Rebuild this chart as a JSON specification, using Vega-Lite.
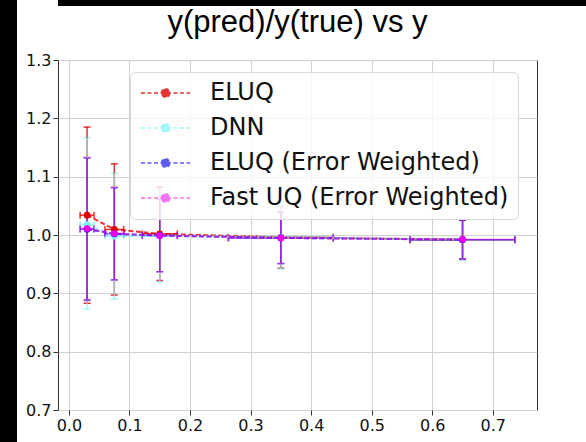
{
  "$schema": "https://vega.github.io/schema/vega-lite/v6.json",
  "background": "white",
  "padding": 0,
  "spacing": 0,
  "config": {"view": {"stroke": null}},
  "hconcat": [
    {
      "width": 17, "height": 442,
      "data": {"values": [{}]},
      "mark": {"type": "point", "opacity": 0},
      "view": {"fill": "black", "stroke": null}
    },
    {
      "spacing": 0,
      "align": "none",
      "vconcat": [
        {
          "width": 569, "height": 6,
          "data": {"values": [{}]},
          "mark": {"type": "point", "opacity": 0},
          "view": {"fill": "black", "stroke": null}
        },
        {
          "width": 479,
          "height": 350,
          "title": {"text": "y(pred)/y(true) vs y", "font": "Liberation Sans", "fontSize": 31, "fontWeight": "normal", "color": "#000", "anchor": "middle", "offset": 13},
          "view": {"stroke": "#333", "strokeWidth": 1, "fill": "white"},
          "data": {"values": [
            {"s": "ELUQ", "x": 0.03, "y": 1.034, "ylo": 0.883, "yhi": 1.185, "xlo": 0.0185, "xhi": 0.0415},
            {"s": "ELUQ", "x": 0.075, "y": 1.0095, "ylo": 0.897, "yhi": 1.122, "xlo": 0.0595, "xhi": 0.0905},
            {"s": "ELUQ", "x": 0.15, "y": 1.002, "ylo": 0.922, "yhi": 1.082, "xlo": 0.121, "xhi": 0.179},
            {"s": "ELUQ", "x": 0.35, "y": 0.996, "ylo": 0.943, "yhi": 1.049, "xlo": 0.2634, "xhi": 0.4366},
            {"s": "ELUQ", "x": 0.65, "y": 0.992, "ylo": 0.958, "yhi": 1.026, "xlo": 0.5634, "xhi": 0.7366},
            {"s": "DNN", "x": 0.03, "y": 1.018, "ylo": 0.873, "yhi": 1.167, "xlo": 0.0185, "xhi": 0.0415},
            {"s": "DNN", "x": 0.075, "y": 0.998, "ylo": 0.89, "yhi": 1.106, "xlo": 0.0595, "xhi": 0.0905},
            {"s": "DNN", "x": 0.15, "y": 0.999, "ylo": 0.92, "yhi": 1.078, "xlo": 0.121, "xhi": 0.179},
            {"s": "DNN", "x": 0.35, "y": 0.996, "ylo": 0.942, "yhi": 1.05, "xlo": 0.2634, "xhi": 0.4366},
            {"s": "DNN", "x": 0.65, "y": 0.992, "ylo": 0.957, "yhi": 1.027, "xlo": 0.5634, "xhi": 0.7366},
            {"s": "ELUQ (Error Weighted)", "x": 0.03, "y": 1.01, "ylo": 0.888, "yhi": 1.132, "xlo": 0.0185, "xhi": 0.0415},
            {"s": "ELUQ (Error Weighted)", "x": 0.075, "y": 1.002, "ylo": 0.923, "yhi": 1.081, "xlo": 0.0595, "xhi": 0.0905},
            {"s": "ELUQ (Error Weighted)", "x": 0.15, "y": 0.999, "ylo": 0.937, "yhi": 1.061, "xlo": 0.121, "xhi": 0.179},
            {"s": "ELUQ (Error Weighted)", "x": 0.35, "y": 0.995, "ylo": 0.951, "yhi": 1.039, "xlo": 0.2634, "xhi": 0.4366},
            {"s": "ELUQ (Error Weighted)", "x": 0.65, "y": 0.992, "ylo": 0.959, "yhi": 1.025, "xlo": 0.5634, "xhi": 0.7366},
            {"s": "Fast UQ (Error Weighted)", "x": 0.03, "y": 1.011, "ylo": 0.889, "yhi": 1.133, "xlo": 0.0185, "xhi": 0.0415},
            {"s": "Fast UQ (Error Weighted)", "x": 0.075, "y": 1.0025, "ylo": 0.923, "yhi": 1.082, "xlo": 0.0595, "xhi": 0.0905},
            {"s": "Fast UQ (Error Weighted)", "x": 0.15, "y": 0.999, "ylo": 0.937, "yhi": 1.061, "xlo": 0.121, "xhi": 0.179},
            {"s": "Fast UQ (Error Weighted)", "x": 0.35, "y": 0.995, "ylo": 0.951, "yhi": 1.039, "xlo": 0.2634, "xhi": 0.4366},
            {"s": "Fast UQ (Error Weighted)", "x": 0.65, "y": 0.9925, "ylo": 0.959, "yhi": 1.026, "xlo": 0.5634, "xhi": 0.7366}
          ]},
          "encoding": {
            "x": {"field": "x", "type": "quantitative",
                  "scale": {"domain": [-0.018, 0.773], "nice": false, "zero": false},
                  "axis": {"title": null, "values": [0, 0.1, 0.2, 0.3, 0.4, 0.5, 0.6, 0.7], "format": ".1f", "domain": false,
                           "tickSize": 5, "tickColor": "#333", "labelPadding": 2, "labelFont": "DejaVu Sans", "labelFontSize": 16, "labelColor": "#111",
                           "gridColor": "#d0d0d0", "gridWidth": 1}},
            "color": {"field": "s", "type": "nominal",
                      "scale": {"domain": ["ELUQ", "DNN", "ELUQ (Error Weighted)", "Fast UQ (Error Weighted)"],
                                "range": ["#e00000", "#7ff5f5", "#0000ee", "#ee00ee"]},
                      "legend": {"orient": "none", "legendX": 130, "legendY": 72, "title": null, "zindex": 1,
                                 "symbolType": "M-1,0H3.9M1.03,0A0.42,0.42,0,1,1,1.87,0A0.42,0.42,0,1,1,1.03,0Z",
                                 "symbolSize": 400, "symbolStrokeWidth": 1.5, "symbolDash": [4, 2.5],
                                 "labelFont": "DejaVu Sans", "labelFontSize": 24, "labelColor": "#111", "labelOffset": 47, "labelLimit": 400,
                                 "fillColor": "rgba(255,255,255,0.8)", "strokeColor": "#d9d9d9", "cornerRadius": 5, "padding": 9, "rowPadding": 11,
                                 "encode": {"symbols": {"update": {"fill": {"scale": "color", "field": "value"}, "stroke": {"scale": "color", "field": "value"}, "opacity": {"value": 0.9}}}}}}
          },
          "layer": [
            {
              "mark": {"type": "errorbar", "ticks": {"size": 7, "thickness": 1.5}, "rule": {"strokeWidth": 1.5}},
              "encoding": {
                "y": {"field": "ylo", "type": "quantitative",
                      "scale": {"domain": [0.7, 1.3], "nice": false, "zero": false},
                      "axis": {"title": null, "values": [0.7, 0.8, 0.9, 1.0, 1.1, 1.2, 1.3], "format": ".1f", "domain": false,
                               "tickSize": 5, "tickColor": "#333", "labelPadding": 2, "labelFont": "DejaVu Sans", "labelFontSize": 16, "labelColor": "#111",
                               "gridColor": "#d0d0d0", "gridWidth": 1, "minExtent": 40, "maxExtent": 40}},
                "y2": {"field": "yhi"},
                "opacity": {"field": "s", "type": "nominal", "legend": null,
                            "scale": {"domain": ["ELUQ", "DNN", "ELUQ (Error Weighted)", "Fast UQ (Error Weighted)"], "range": [0.8, 0.55, 0.9, 0.5]}}
              }
            },
            {
              "mark": {"type": "errorbar", "ticks": {"size": 7, "thickness": 1.5}, "rule": {"strokeWidth": 1.5}},
              "encoding": {
                "x": {"field": "xlo", "type": "quantitative"},
                "x2": {"field": "xhi"},
                "y": {"field": "y", "type": "quantitative"},
                "opacity": {"field": "s", "type": "nominal", "legend": null}
              }
            },
            {
              "mark": {"type": "line", "strokeDash": [5, 2.5], "strokeWidth": 2},
              "encoding": {
                "y": {"field": "y", "type": "quantitative"},
                "opacity": {"field": "s", "type": "nominal", "legend": null}
              }
            },
            {
              "mark": {"type": "point", "filled": true, "size": 45, "opacity": 1},
              "encoding": {
                "y": {"field": "y", "type": "quantitative"}
              }
            }
          ]
        }
      ]
    }
  ]
}
